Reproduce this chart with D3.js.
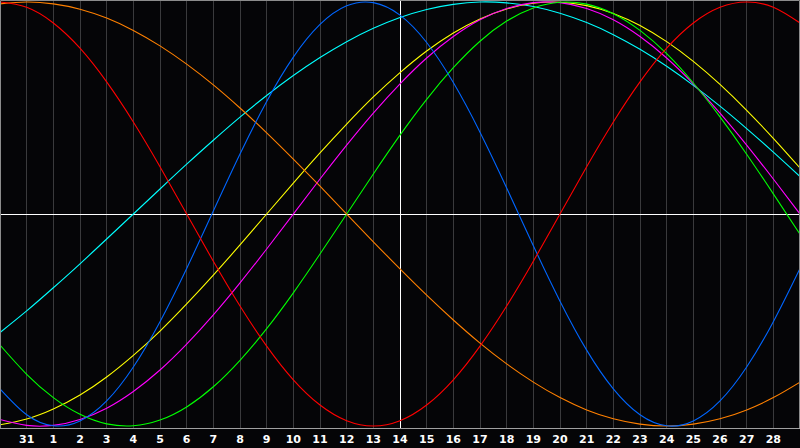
<!DOCTYPE html>
<html>
<head>
<meta charset="utf-8">
<script src="https://cdn.jsdelivr.net/npm/d3@7"></script>
<style>
  html, body { margin: 0; padding: 0; background: #050507; }
  svg { display: block; }
  .label { font-family: "DejaVu Sans", sans-serif; font-weight: bold; font-size: 11px; fill: #ffffff; }
</style>
</head>
<body>
<div id="chart"></div>
<script>
// day labels at each grid line (index 0 = left edge, 30 = right edge)
var dayLabels = ["30", "31", "1", "2", "3", "4", "5", "6", "7", "8", "9", "10", "11", "12", "13",
                 "14", "15", "16", "17", "18", "19", "20", "21", "22", "23", "24", "25", "26", "27", "28", "1"];
var todayIndex = 15;

// values (-100..100) at each day line
var cyanValues    = [-55.9, -45.7, -34.8, -23.5, -11.8, 0, 11.8, 23.5, 34.8, 45.7, 55.9, 65.3, 73.8, 81.3, 87.6, 92.7,
                     96.5, 98.9, 100, 99.6, 97.9, 94.7, 90.3, 84.6, 77.7, 69.7, 60.7, 50.9, 40.3, 29.2, 17.7];
var yellowValues  = [-99.4, -96.7, -92.0, -85.4, -76.9, -66.7, -55.2, -42.4, -28.8, -14.6, 0, 14.6, 28.8, 42.4, 55.2, 66.7,
                     76.9, 85.4, 92.0, 96.7, 99.4, 99.9, 98.3, 94.6, 88.9, 81.3, 72.0, 61.1, 48.9, 35.7, 21.7];
var magentaValues = [-96.9, -99.7, -99.7, -96.9, -91.6, -83.7, -73.6, -61.4, -47.6, -32.5, -16.5, 0, 16.5, 32.5, 47.6, 61.4,
                     73.6, 83.7, 91.6, 96.9, 99.7, 99.7, 96.9, 91.6, 83.7, 73.6, 61.4, 47.6, 32.5, 16.5, 0];
var greenValues   = [-61.8, -75.6, -86.6, -94.5, -99.0, -99.9, -97.2, -91.0, -81.5, -69.0, -54.1, -37.2, -18.9, 0, 18.9, 37.2,
                     54.1, 69.0, 81.5, 91.0, 97.2, 99.9, 99.0, 94.5, 86.6, 75.6, 61.8, 45.8, 28.2, 9.5, -9.5];
var orangeValues  = [99.1, 100, 99.1, 96.6, 92.4, 86.6, 79.3, 70.7, 60.9, 50, 38.3, 25.9, 13.1, 0, -13.1, -25.9,
                     -38.3, -50, -60.9, -70.7, -79.3, -86.6, -92.4, -96.6, -99.1, -100, -99.1, -96.6, -92.4, -86.6, -79.3];
var blueValues    = [-82.5, -94.7, -99.9, -97.6, -88.2, -72.2, -50.8, -25.7, 1.4, 28.3, 53.1, 74.0, 89.4, 98.2, 99.7, 93.8,
                     80.9, 62.0, 38.6, 12.3, -15.0, -41.1, -64.2, -82.5, -94.7, -99.9, -97.6, -88.2, -72.2, -50.8, -25.7];
var redValues     = [100, 97.5, 90.1, 78.2, 62.3, 43.4, 22.3, 0, -22.3, -43.4, -62.3, -78.2, -90.1, -97.5, -100, -97.5,
                     -90.1, -78.2, -62.3, -43.4, -22.3, 0, 22.3, 43.4, 62.3, 78.2, 90.1, 97.5, 100, 97.5, 90.1];

var series = [
  { name: "cyan",    color: "#00ffff", values: cyanValues },
  { name: "yellow",  color: "#ffff00", values: yellowValues },
  { name: "magenta", color: "#ff00ff", values: magentaValues },
  { name: "green",   color: "#00ff00", values: greenValues },
  { name: "orange",  color: "#ff8000", values: orangeValues },
  { name: "blue",    color: "#0066ff", values: blueValues },
  { name: "red",     color: "#ff0000", values: redValues }
];

var width = 800, height = 448;
var plotBottom = 428;

var x = d3.scaleLinear().domain([0, dayLabels.length - 1]).range([0, width]);
var y = d3.scaleLinear().domain([-100, 100]).range([426, 2]);

function px(v) { return Math.floor(v) + 0.5; }

var svg = d3.select("#chart").append("svg")
  .attr("width", width)
  .attr("height", height);

svg.append("rect")
  .attr("width", width)
  .attr("height", height)
  .attr("fill", "#050507");

// vertical day grid
var inner = d3.range(1, dayLabels.length - 1);
svg.append("g").selectAll("line")
  .data(inner)
  .enter()
  .append("line")
    .attr("x1", function(d) { return px(x(d)); })
    .attr("x2", function(d) { return px(x(d)); })
    .attr("y1", 0)
    .attr("y2", plotBottom)
    .attr("stroke", "#3a3a3c")
    .attr("stroke-width", 1);

// zero line and today line
svg.append("line")
  .attr("x1", 0).attr("x2", width)
  .attr("y1", px(y(0))).attr("y2", px(y(0)))
  .attr("stroke", "#ffffff");

svg.append("line")
  .attr("x1", px(x(todayIndex))).attr("x2", px(x(todayIndex)))
  .attr("y1", 0).attr("y2", plotBottom)
  .attr("stroke", "#ffffff");

var line = d3.line()
  .x(function(d, i) { return x(i); })
  .y(function(d) { return y(d); })
  .curve(d3.curveNatural);

svg.append("g").selectAll("path")
  .data(series)
  .enter()
  .append("path")
    .attr("d", function(d) { return line(d.values); })
    .attr("fill", "none")
    .attr("stroke", function(d) { return d.color; })
    .attr("stroke-width", 1.1);

// frame: top, left, right and bottom axis line
svg.append("path")
  .attr("d", "M0.5," + plotBottom + "V0.5H" + (width - 0.5) + "V" + plotBottom)
  .attr("fill", "none")
  .attr("stroke", "#8c8c8c");

svg.append("line")
  .attr("x1", 0).attr("x2", width)
  .attr("y1", plotBottom + 0.5).attr("y2", plotBottom + 0.5)
  .attr("stroke", "#a0a0a0");

svg.append("g").selectAll("text")
  .data(inner)
  .enter()
  .append("text")
    .attr("class", "label")
    .attr("x", function(d) { return x(d); })
    .attr("y", 443)
    .attr("text-anchor", "middle")
    .text(function(d) { return dayLabels[d]; });
</script>
</body>
</html>
